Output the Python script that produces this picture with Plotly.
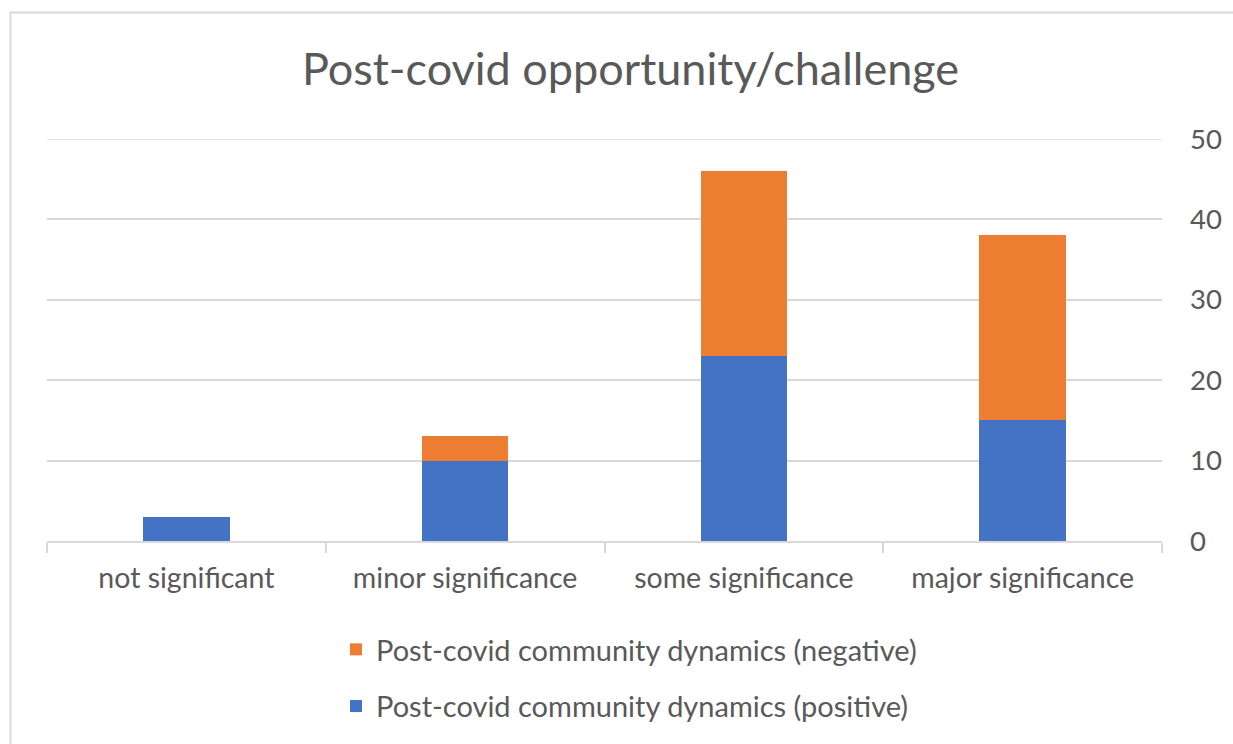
import plotly.graph_objects as go

categories = ["not significant", "minor significance", "some significance", "major significance"]
positive = [3, 10, 23, 15]
negative = [0, 3, 23, 23]
series_names = ["Post-covid community dynamics (positive)", "Post-covid community dynamics (negative)"]
title_text = "Post-covid opportunity/challenge"
y_max = 50

W, H = 1233, 744
L, R, T, B = 47, 1162, 139, 541

def px_x(px):
    return (px - L) / (R - L)

def px_y(py):
    return (B - py) / (B - T)

FONT = "Lato"
GRAY = "#595959"
GRID = "#d9d9d9"

fig = go.Figure()
fig.add_trace(go.Bar(x=categories, y=positive, name=series_names[0],
                     marker=dict(color="#4472C4", line=dict(width=0)),
                     legendgroup="pos", legendrank=2))
fig.add_trace(go.Bar(x=categories, y=negative, name=series_names[1],
                     marker=dict(color="#ED7D31", line=dict(width=0)),
                     legendgroup="neg", legendrank=1))

fig.update_layout(
    width=W, height=H,
    margin=dict(l=L, r=W - R, t=T, b=H - B, pad=0),
    barmode="stack",
    bargap=0.69,
    plot_bgcolor="white",
    paper_bgcolor="white",
    font=dict(family=FONT, color=GRAY),
    title=dict(text=title_text, x=630.5 / W, xref="container", xanchor="center",
               y=1 - 69 / H, yref="container", yanchor="middle",
               font=dict(size=45, color=GRAY, family=FONT)),
    legend=dict(orientation="v", x=px_x(336), y=px_y(624), xanchor="left", yanchor="top",
                traceorder="grouped", tracegroupgap=16,
                font=dict(size=29, color=GRAY, family=FONT),
                bgcolor="rgba(0,0,0,0)"),
    xaxis=dict(showgrid=False, showline=True, linecolor=GRID, linewidth=1.5,
               ticks="outside", tickson="boundaries", ticklen=10, tickcolor=GRID,
               tickwidth=1.5, tickfont=dict(size=28.5, color=GRAY, family=FONT),
               ticklabelstandoff=11),
    yaxis=dict(side="right", range=[0, y_max], dtick=10, showgrid=True, gridcolor=GRID,
               gridwidth=1.5, zeroline=False, showline=False, ticks="",
               tickfont=dict(size=27.5, color=GRAY, family=FONT),
               ticklabelstandoff=27),
    shapes=[
        dict(type="rect", xref="paper", yref="paper",
             x0=px_x(10.5), x1=px_x(W + 20), y0=px_y(12.5), y1=px_y(H + 20),
             line=dict(color=GRID, width=2), fillcolor="rgba(0,0,0,0)", layer="below"),
        dict(type="line", xref="paper", yref="y", x0=0, x1=1, y0=y_max, y1=y_max,
             line=dict(color=GRID, width=1.5), layer="below"),
    ],
)

fig.write_html("out.html")
